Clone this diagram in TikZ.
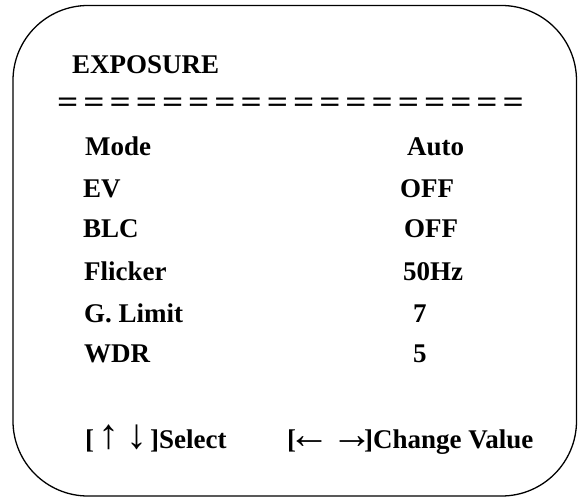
\documentclass[tikz,border=0pt]{standalone}
\usepackage{fontspec}
\setmainfont{Liberation Serif}
\newcommand{\bigarr}[1]{\makebox[0pt][c]{\fontsize{42}{44}\selectfont\mdseries #1}}
\begin{document}
\begin{tikzpicture}[x=1pt,y=-1pt,
  txt/.style={anchor=base west,inner sep=0pt,font=\fontsize{27}{32}\selectfont\bfseries},
  frame/.style={draw=black,line width=1.3pt,rounded corners=75pt}]
\useasboundingbox (0,0) rectangle (578,498);
\draw[frame] (13,5.5) rectangle (576.5,496);
\node[txt] (title) at (72,73) {EXPOSURE};
\node[txt] (rule) at (57,112) {\scalebox{1.38}[1.15]{\spaceskip=3.6pt plus 0pt minus 0pt = = = = = = = = = = = = = = = = = =}};
\node[txt] (l1) at (85,155) {Mode};
\node[txt] (l2) at (83,197) {EV};
\node[txt] (l3) at (83,237) {BLC};
\node[txt] (l4) at (84,280) {Flicker};
\node[txt] (l5) at (84,322) {G. Limit};
\node[txt] (l6) at (84,362) {WDR};
\node[txt] (v1) at (407,155) {Auto};
\node[txt] (v2) at (400,197) {OFF};
\node[txt] (v3) at (404,237) {OFF};
\node[txt] (v4) at (403,280) {50Hz};
\node[txt] (v5) at (413,322) {7};
\node[txt] (v6) at (413,362) {5};
\node[txt] (f1) at (85,448) {[\hspace{15pt}\bigarr{↑}\hspace{28pt}\bigarr{↓}\hspace{13pt}]Select};
\node[txt] (f2) at (287,448) {[\hspace{13pt}\bigarr{←}\hspace{43pt}\bigarr{→}\hspace{12pt}]Change Value};
\end{tikzpicture}
\end{document}
